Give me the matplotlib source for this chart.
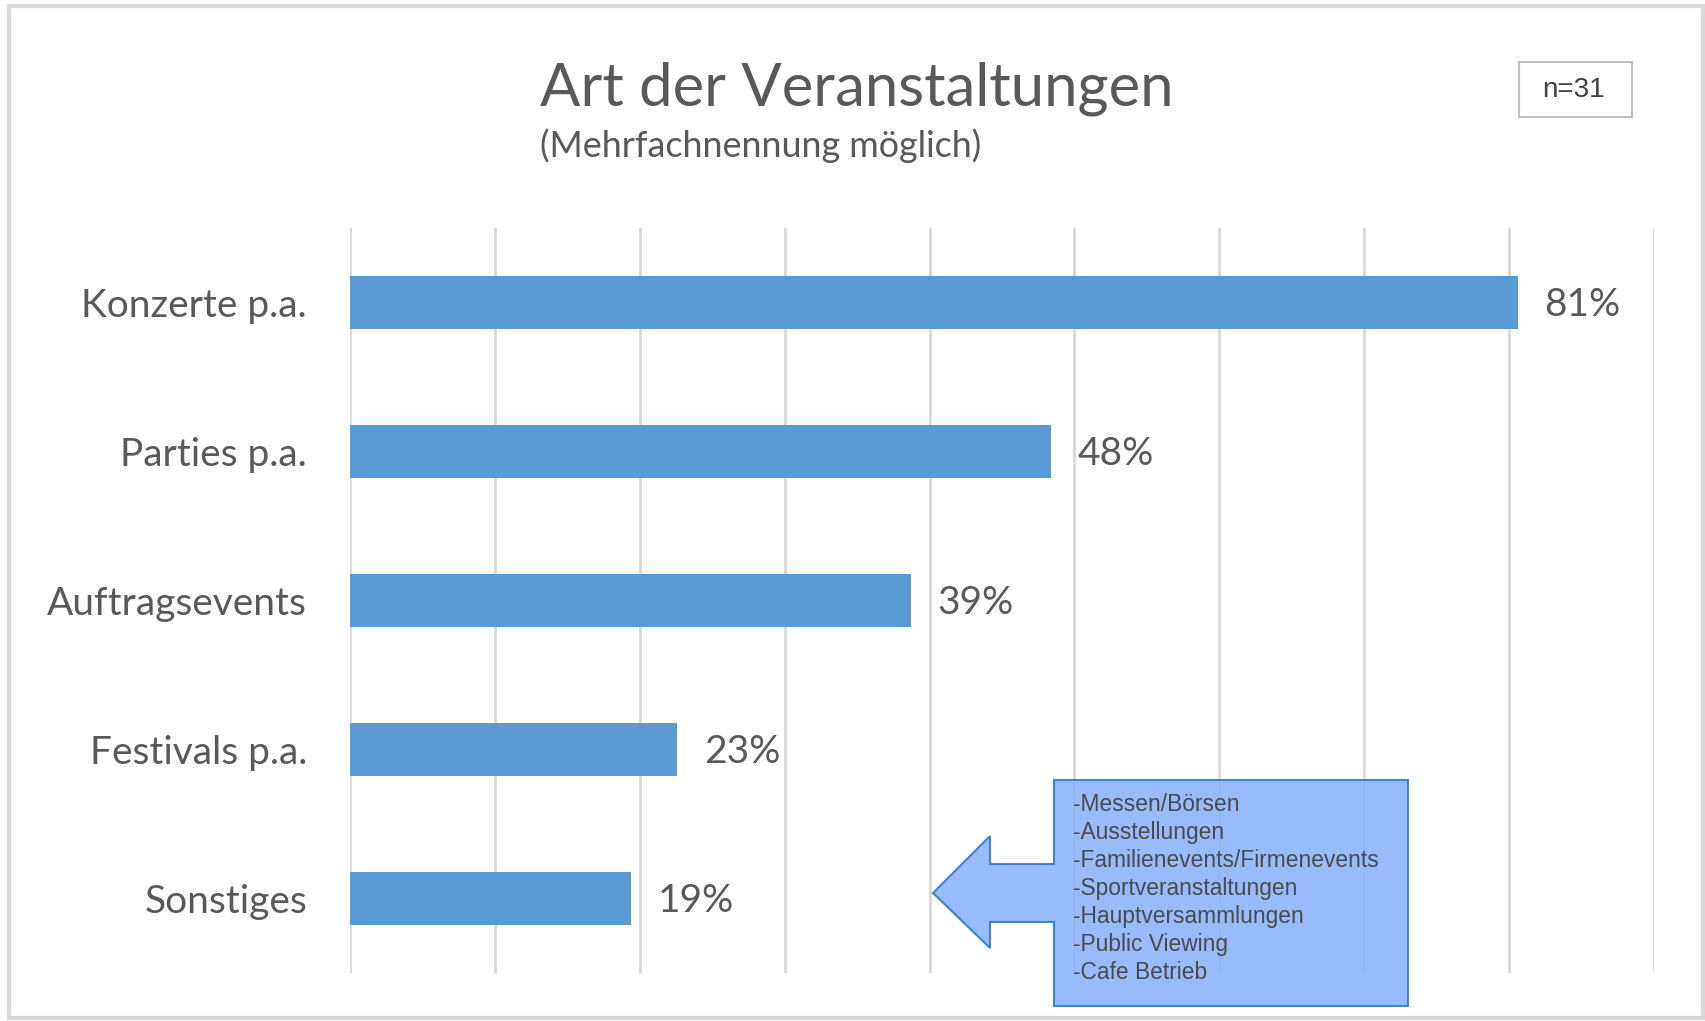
import matplotlib
matplotlib.use("Agg")
import matplotlib.pyplot as plt
from matplotlib.patches import Polygon, Rectangle

categories = ["Konzerte p.a.", "Parties p.a.", "Auftragsevents", "Festivals p.a.", "Sonstiges"]
values = [80.6, 48.4, 38.7, 22.6, 19.4]
value_labels = ["81%", "48%", "39%", "23%", "19%"]
x_ticks = [0, 10, 20, 30, 40, 50, 60, 70, 80, 90]
title = "Art der Veranstaltungen"
subtitle = "(Mehrfachnennung möglich)"
n_label = "n=31"
other_items = ["-Messen/Börsen", "-Ausstellungen", "-Familienevents/Firmenevents",
               "-Sportveranstaltungen", "-Hauptversammlungen", "-Public Viewing", "-Cafe Betrieb"]

W, H = 1705, 1021
fig = plt.figure(figsize=(W / 100, H / 100), dpi=100)
FONT = "Lato"
TXT = "#595959"

def fx(px):
    return px / W

def fy(py):
    return 1 - py / H

# outer light frame
fig.patches.append(Rectangle((fx(9), fy(1018)), fx(1703) - fx(9), fy(6) - fy(1018),
                             transform=fig.transFigure, fill=False, edgecolor="#D9D9D9",
                             linewidth=3, zorder=0))

ax = fig.add_axes([fx(350), fy(973), fx(1654) - fx(350), fy(228) - fy(973)])
y = list(range(len(categories)))
ax.barh(y, values, height=0.35, color="#5B9BD5", zorder=3)
ax.set_xlim(0, 90)
ax.set_ylim(len(categories) - 0.5, -0.5)
ax.set_xticks(x_ticks)
ax.set_xticklabels([])
ax.tick_params(axis="x", length=0)
ax.tick_params(axis="y", length=0, pad=31)
ax.set_yticks(y)
ax.set_yticklabels(categories, fontsize=28, color=TXT, family=FONT)
ax.grid(axis="x", color="#D9D9D9", linewidth=2, zorder=0)
for s in ax.spines.values():
    s.set_visible(False)
for yi, v, lab in zip(y, values, value_labels):
    ax.annotate(lab, (v, yi), xytext=(19, -2), textcoords="offset points",
                va="center", ha="left", fontsize=28, color=TXT, family=FONT)

fig.text(fx(540), fy(89), title, fontsize=43, color=TXT, family=FONT, va="center", ha="left")
fig.text(fx(540), fy(146), subtitle, fontsize=25.8, color=TXT, family=FONT, va="center", ha="left")

# n box
fig.patches.append(Rectangle((fx(1519), fy(117)), fx(1632) - fx(1519), fy(62) - fy(117),
                             transform=fig.transFigure, facecolor="white", edgecolor="#BFBFBF",
                             linewidth=1.5, zorder=5))
fig.text(fx(1574), fy(90), n_label, fontsize=20, color="#404040", family="Liberation Sans",
         ha="center", va="center", zorder=6)

# callout arrow + box
pts = [(933, 893), (990, 836), (990, 864), (1054, 864), (1054, 780), (1408, 780),
       (1408, 1006), (1054, 1006), (1054, 922), (990, 922), (990, 948)]
fig.patches.append(Polygon([(fx(a), fy(b)) for a, b in pts], closed=True,
                           transform=fig.transFigure, facecolor="#8AB2FB", alpha=0.88,
                           edgecolor="#2A78CC", linewidth=1.5, zorder=5))
fig.text(fx(1073), fy(793), "\n".join(other_items), fontsize=16.4, color="#4A4A4A",
         family="Liberation Sans", ha="left", va="top", linespacing=1.28, zorder=6)

fig.savefig("out.png", dpi=100)
